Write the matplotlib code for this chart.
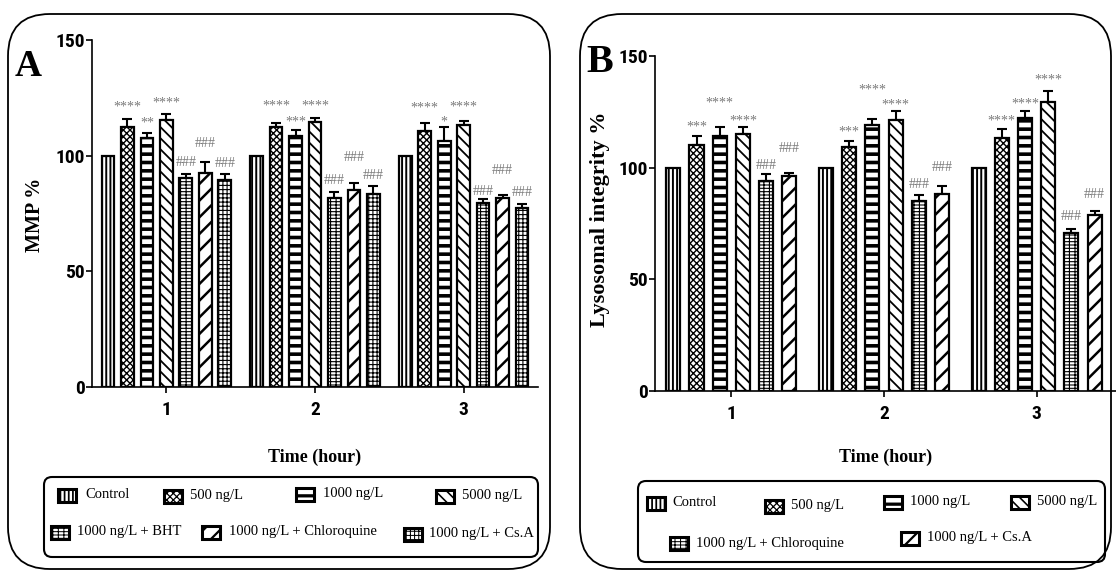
import numpy as np
import matplotlib
matplotlib.use("Agg")
import matplotlib.pyplot as plt
from matplotlib import font_manager
from matplotlib.patches import FancyBboxPatch, Rectangle
from matplotlib.transforms import IdentityTransform

# ---------------- data ----------------
time_ticks = [1, 2, 3]
time_labels = ["1", "2", "3"]
yticks = [0, 50, 100, 150]

a_names = ["Control", "500 ng/L", "1000 ng/L", "5000 ng/L",
           "1000 ng/L + BHT", "1000 ng/L + Chloroquine", "1000 ng/L + Cs.A"]
a_control = [100, 100, 100]
a_500 = [112.5, 112.5, 110.5]
a_1000 = [107.5, 108.6, 106.5]
a_5000 = [115.4, 114.5, 113.4]
a_bht = [90.5, 81.5, 79.4]
a_chloro = [92.5, 85.3, 81.5]
a_csa = [89.5, 83.5, 77.3]
a_control_sem = [0, 0, 0]
a_500_sem = [3.3, 1.6, 3.6]
a_1000_sem = [2.5, 2.5, 5.7]
a_5000_sem = [2.8, 1.6, 1.8]
a_bht_sem = [1.7, 2.7, 1.8]
a_chloro_sem = [4.6, 3.1, 1.7]
a_csa_sem = [2.7, 3.6, 1.9]
a_control_sig = ["", "", ""]
a_500_sig = ["****", "****", "****"]
a_1000_sig = ["**", "***", "*"]
a_5000_sig = ["****", "****", "****"]
a_bht_sig = ["###", "###", "###"]
a_chloro_sig = ["###", "###", "###"]
a_csa_sig = ["###", "###", "###"]
a_control_sig_y = [0, 0, 0]
a_500_sig_y = [122.8, 123.3, 122.4]
a_1000_sig_y = [116.0, 116.4, 116.4]
a_5000_sig_y = [124.6, 123.3, 122.8]
a_bht_sig_y = [97.8, 90.0, 85.3]
a_chloro_sig_y = [106.0, 100.0, 94.4]
a_csa_sig_y = [97.4, 92.2, 84.5]

b_names = ["Control", "500 ng/L", "1000 ng/L", "5000 ng/L",
           "1000 ng/L + Chloroquine", "1000 ng/L + Cs.A"]
b_control = [100, 100, 100]
b_500 = [110.3, 109.2, 113.3]
b_1000 = [114.4, 119.2, 122.4]
b_5000 = [115.2, 121.2, 129.4]
b_chloro = [94.1, 85.0, 70.9]
b_csa = [96.1, 88.0, 78.8]
b_control_sem = [0, 0, 0]
b_500_sem = [3.8, 2.9, 3.8]
b_1000_sem = [3.8, 2.8, 2.8]
b_5000_sem = [3.0, 4.0, 4.8]
b_chloro_sem = [2.9, 2.9, 1.8]
b_csa_sem = [1.6, 3.8, 2.0]
b_control_sig = ["", "", ""]
b_500_sig = ["***", "***", "****"]
b_1000_sig = ["****", "****", "****"]
b_5000_sig = ["****", "****", "****"]
b_chloro_sig = ["###", "###", "###"]
b_csa_sig = ["###", "###", "###"]
b_control_sig_y = [0, 0, 0]
b_500_sig_y = [120.2, 117.9, 122.7]
b_1000_sig_y = [130.8, 136.5, 130.5]
b_5000_sig_y = [122.9, 129.7, 140.9]
b_chloro_sig_y = [101.5, 93.2, 78.9]
b_csa_sig_y = [109.4, 100.9, 88.8]

# ---------------- styles ----------------
W, H, DPI = 1116, 571, 100
SERIF = "Liberation Serif"
fonts = font_manager.fontManager.ttflist
names = {f.name for f in fonts}
TICKSTRETCH = "normal"
if "Liberation Sans Narrow" in names:
    TICKFONT, TICKSIZE = "Liberation Sans Narrow", 14.5
elif "Roboto Condensed" in names:
    TICKFONT, TICKSIZE = "Roboto Condensed", 14
elif any(f.name == "DejaVu Sans" and f.stretch == "condensed" and f.weight in ("bold", 700) for f in fonts):
    TICKFONT, TICKSIZE, TICKSTRETCH = "DejaVu Sans", 12.5, "condensed"
else:
    TICKFONT, TICKSIZE = "Liberation Sans", 13

style_map = {
    "Control": ("||||", 1.4),
    "500 ng/L": ("xxxxx", 1.0),
    "1000 ng/L": ("--", 2.6),
    "5000 ng/L": ("\\\\\\", 1.3),
    "BRICK": ("-----|||", 0.8),
    "DIAG": ("//", 1.8),
    "GRID": ("++++", 0.8),
}
a_styles = ["Control", "500 ng/L", "1000 ng/L", "5000 ng/L", "BRICK", "DIAG", "GRID"]
b_styles = ["Control", "500 ng/L", "1000 ng/L", "5000 ng/L", "BRICK", "DIAG"]

fig = plt.figure(figsize=(W / DPI, H / DPI), dpi=DPI)
fig.patch.set_facecolor("white")


def fx(px):
    return px / W


def fy(py):
    return 1 - py / H


def set_hlw(patch, lw):
    if hasattr(patch, "set_hatch_linewidth"):
        patch.set_hatch_linewidth(lw)


def rbox(x0, y0, x1, y1, r, lw):
    p = FancyBboxPatch((x0, H - y1), x1 - x0, y1 - y0,
                       boxstyle=f"round,pad=0,rounding_size={r}",
                       transform=IdentityTransform(), facecolor="none",
                       edgecolor="black", linewidth=lw, zorder=0)
    fig.add_artist(p)


def panel(box, means, sems, sigs, sig_ys, styles, step, width):
    L, R, T, B = box
    ax = fig.add_axes([fx(L), fy(B), fx(R - L), (B - T) / H])
    ax.set_facecolor("none")
    n = len(means)
    for i in range(n):
        x = np.array(time_ticks, dtype=float) + (i - (n - 1) / 2) * step
        hatch, hlw = style_map[styles[i]]
        plt.rcParams["hatch.linewidth"] = hlw
        bars = ax.bar(x, means[i], width, color="white", edgecolor="black",
                      linewidth=1.6, hatch=hatch, zorder=3)
        for b in bars:
            set_hlw(b, hlw)
        e = np.array(sems[i], dtype=float)
        if e.any():
            ax.errorbar(x, means[i], yerr=[np.zeros_like(e), e], fmt="none",
                        ecolor="black", elinewidth=1.5, capsize=3.8, capthick=1.5,
                        zorder=2)
        for xi, s, sy in zip(x, sigs[i], sig_ys[i]):
            if s:
                off = -3.0 if "*" in s else -1.0
                ax.annotate(s, (xi, sy), xytext=(0, off), textcoords="offset points",
                            ha="center", va="center", fontsize=10, color="#7a7a7a",
                            family=SERIF, annotation_clip=False)
    plt.rcParams["hatch.linewidth"] = 1.0
    return ax


# ---------------- Panel A ----------------
A_box = (92, 538, 40, 387)
axA = panel(A_box,
            [a_control, a_500, a_1000, a_5000, a_bht, a_chloro, a_csa],
            [a_control_sem, a_500_sem, a_1000_sem, a_5000_sem, a_bht_sem, a_chloro_sem, a_csa_sem],
            [a_control_sig, a_500_sig, a_1000_sig, a_5000_sig, a_bht_sig, a_chloro_sig, a_csa_sig],
            [a_control_sig_y, a_500_sig_y, a_1000_sig_y, a_5000_sig_y, a_bht_sig_y, a_chloro_sig_y, a_csa_sig_y],
            a_styles, 0.131, 0.085)
axA.set_xlim(0.5, 3.5)

# ---------------- Panel B ----------------
B_box = (655, 1116, 56, 391)
axB = panel(B_box,
            [b_control, b_500, b_1000, b_5000, b_chloro, b_csa],
            [b_control_sem, b_500_sem, b_1000_sem, b_5000_sem, b_chloro_sem, b_csa_sem],
            [b_control_sig, b_500_sig, b_1000_sig, b_5000_sig, b_chloro_sig, b_csa_sig],
            [b_control_sig_y, b_500_sig_y, b_1000_sig_y, b_5000_sig_y, b_chloro_sig_y, b_csa_sig_y],
            b_styles, 0.152, 0.092)
axB.set_xlim(0.5, 3.52)

for ax, box, ylab, ylsize, ylx, yly, xly in [
        (axA, A_box, "MMP %", 14.5, 35, 215, 457),
        (axB, B_box, "Lysosomal integrity %", 16, 600, 219, 457)]:
    L, R, T, B = box
    ax.set_ylim(0, 150)
    ax.set_yticks(yticks)
    ax.set_xticks(time_ticks)
    ax.set_xticklabels(time_labels)
    for s in ["top", "right"]:
        ax.spines[s].set_visible(False)
    for s in ["left", "bottom"]:
        ax.spines[s].set_linewidth(1.2)
    ax.tick_params(direction="out", length=4, width=1.2, colors="black")
    ax.tick_params(axis="y", pad=1)
    ax.tick_params(axis="x", pad=6)
    for lab in ax.get_xticklabels() + ax.get_yticklabels():
        lab.set_fontfamily(TICKFONT)
        lab.set_fontweight("bold")
        lab.set_fontsize(TICKSIZE)
        lab.set_fontstretch(TICKSTRETCH)
    ax.set_ylabel(ylab, fontsize=ylsize, fontweight="bold", family=SERIF)
    ax.yaxis.set_label_coords((ylx - L) / (R - L), (B - yly) / (B - T))
    ax.yaxis.label.set_verticalalignment("center")
    ax.yaxis.label.set_horizontalalignment("center")
    ax.set_xlabel("Time (hour)", fontsize=13, fontweight="bold", family=SERIF)
    ax.xaxis.set_label_coords(0.5, (B - xly) / (B - T))
    ax.xaxis.label.set_verticalalignment("center")

# ---------------- outer rounded boxes & panel letters ----------------
rbox(8, 14, 550, 569, 42, 1.3)
rbox(580, 14, 1111, 569, 42, 1.3)
fig.text(fx(28), fy(66), "A", fontsize=27, fontweight="bold", family=SERIF,
         ha="center", va="center")
fig.text(fx(600), fy(63), "B", fontsize=29, fontweight="bold", family=SERIF,
         ha="center", va="center")


# ---------------- legends ----------------
def legend_item(hx, hy, label, style, tx):
    hatch, hlw = style_map[style]
    plt.rcParams["hatch.linewidth"] = hlw * 0.9
    r = Rectangle((hx, H - hy - 6.5), 18, 13, transform=IdentityTransform(),
                  facecolor="white", edgecolor="black", linewidth=2.2, hatch=hatch)
    set_hlw(r, hlw * 0.9)
    fig.add_artist(r)
    fig.text(fx(tx), fy(hy), label, fontsize=10.5, family=SERIF,
             ha="left", va="center")
    plt.rcParams["hatch.linewidth"] = 1.0


rbox(44, 477, 538, 557, 8, 1.5)
a_leg_pos = [(58, 495, 85), (164, 496, 190), (296, 494, 323), (436, 496, 462),
             (51, 532, 77), (202, 532, 229), (404, 534, 429)]
for (hx, hy, tx), name, st in zip(a_leg_pos, a_names, a_styles):
    legend_item(hx, hy, name, st, tx)

rbox(638, 481, 1105, 562, 8, 1.5)
b_leg_pos = [(647, 503, 672), (765, 506, 791), (884, 502, 910), (1011, 502, 1037),
             (670, 543, 696), (901, 538, 927)]
for (hx, hy, tx), name, st in zip(b_leg_pos, b_names, b_styles):
    legend_item(hx, hy, name, st, tx)

fig.savefig("out.png", dpi=DPI, facecolor="white")
